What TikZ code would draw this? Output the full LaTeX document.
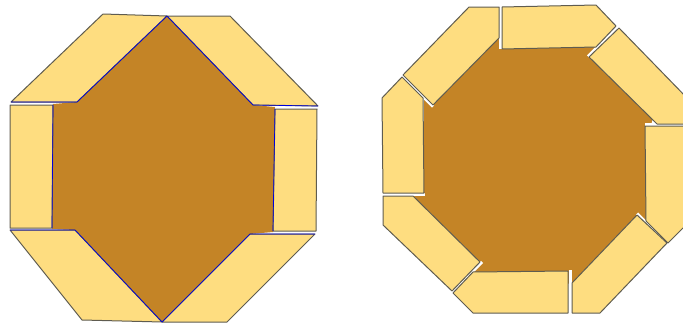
\documentclass[tikz,border=0pt]{standalone}
\definecolor{tileyellow}{RGB}{254,221,128}
\definecolor{corebrown}{RGB}{196,132,38}
\definecolor{rimgray}{RGB}{95,92,80}
\begin{document}
\begin{tikzpicture}[x=1pt, y=-1pt, line join=round,
    tile/.style={fill=tileyellow, draw=rimgray, line width=1pt},
    core/.style={fill=corebrown},
    seam/.style={white, line width=3pt},
    blueline/.style={draw=blue!85!black, line width=0.7pt}]
    \useasboundingbox (0,0) rectangle (683,324);
    \clip (0,0) rectangle (683,324);

    % left frame: six tiles round a stretched core
    \fill[core] (167,16) -- (253,105) -- (275,107) -- (273,232) -- (250,234)
        -- (162,322) -- (75,230) -- (52,229) -- (53,104) -- (77,102) -- cycle;
    \draw[tile] (103,14) -- (167,16) -- (77,102) -- (11,102) -- cycle;
    \draw[tile] (167,16) -- (230,16) -- (318,106) -- (253,105) -- cycle;
    \draw[tile] (275,109) -- (317,109) -- (316,231) -- (273,231) -- cycle;
    \draw[tile] (250,234) -- (315,234) -- (227,322) -- (162,322) -- cycle;
    \draw[tile] (10,230) -- (75,230) -- (162,322) -- (82,320) -- cycle;
    \draw[tile] (10,105) -- (53,105) -- (52,228) -- (10,228) -- cycle;
    \draw[blueline] (11,102) -- (77,102) -- (167,16) -- (253,105) -- (318,106);
    \draw[blueline] (275,109) -- (273,231);
    \draw[blueline] (10,230) -- (75,230) -- (162,322) -- (250,234) -- (315,234);
    \draw[blueline] (53,105) -- (52,228);

    % right frame: eight tiles round a regular core
    \fill[core] (424,98) -- (499,38) -- (596,46) -- (652,118) -- (646,221)
        -- (572,284) -- (474,272) -- (413,196) -- (424,193) -- cycle;
    \draw[seam] (500.5,6) -- (500.5,49);
    \draw[seam] (621,23.5) -- (588,56.5);
    \draw[seam] (645,124.5) -- (690,124.5);
    \draw[seam] (637,213.5) -- (669,245.5);
    \draw[seam] (570,270) -- (570,314);
    \draw[seam] (482,262) -- (451,293);
    \draw[seam] (382,194.5) -- (425,194.5);
    \draw[seam] (401,74.5) -- (433,106.5);
    \draw[tile] (502,7) -- (596,5) -- (616,26) -- (596,47) -- (502,49) -- cycle;
    \draw[tile] (619,28) -- (689,100) -- (689,124) -- (657,124) -- (589,57) -- cycle;
    \draw[tile] (645,126) -- (690,126) -- (690,221) -- (668,243) -- (646,221) -- cycle;
    \draw[tile] (572,283) -- (637,215) -- (667,243) -- (600,313) -- (572,313) -- cycle;
    \draw[tile] (473,272) -- (568,271) -- (568,313) -- (473,313) -- (453,293) -- cycle;
    \draw[tile] (383,196) -- (413,196) -- (480,262) -- (452,291) -- (383,225) -- cycle;
    \draw[tile] (402,77) -- (423,98) -- (424,193) -- (383,193) -- (382,98) -- cycle;
    \draw[tile] (469,7) -- (499,7) -- (499,38) -- (433,105) -- (403,75) -- cycle;
\end{tikzpicture}
\end{document}
